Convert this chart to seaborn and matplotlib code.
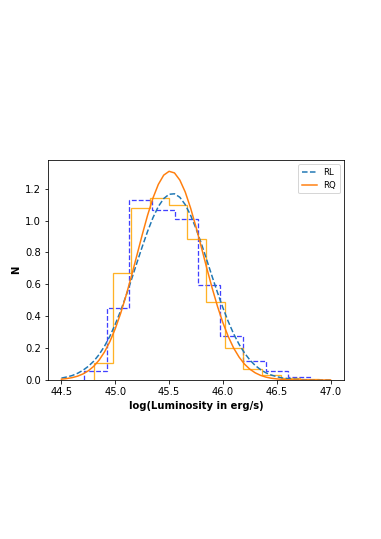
import numpy as np
import matplotlib
matplotlib.use("Agg")
import matplotlib.pyplot as plt
import seaborn as sns

# histogram bins (density values)
rl_edges = [44.71, 44.92, 45.13, 45.345, 45.555, 45.765, 45.975, 46.19, 46.40, 46.605, 46.82]
rl_heights = [0.057, 0.454, 1.129, 1.068, 1.009, 0.593, 0.276, 0.117, 0.057, 0.019]

rq_edges = [44.80, 44.975, 45.15, 45.325, 45.50, 45.67, 45.845, 46.02, 46.19, 46.365,
            46.54, 46.715, 46.89]
rq_heights = [0.105, 0.670, 1.079, 1.141, 1.100, 0.884, 0.490, 0.203, 0.071, 0.029,
              0.010, 0.004]

# fitted curves, read at 0.05 steps
fit_x = [44.50, 44.55, 44.60, 44.65, 44.70, 44.75, 44.80, 44.85, 44.90, 44.95,
         45.00, 45.05, 45.10, 45.15, 45.20, 45.25, 45.30, 45.35, 45.40, 45.45,
         45.50, 45.55, 45.60, 45.65, 45.70, 45.75, 45.80, 45.85, 45.90, 45.95,
         46.00, 46.05, 46.10, 46.15, 46.20, 46.25, 46.30, 46.35, 46.40, 46.45,
         46.50, 46.55, 46.60, 46.65, 46.70, 46.75, 46.80, 46.85, 46.90, 46.95, 47.00]
rl_fit = [0.012, 0.019, 0.028, 0.042, 0.061, 0.086, 0.118, 0.160, 0.212, 0.275,
          0.350, 0.434, 0.528, 0.629, 0.733, 0.835, 0.932, 1.018, 1.088, 1.138,
          1.165, 1.168, 1.146, 1.100, 1.033, 0.950, 0.855, 0.753, 0.649, 0.548,
          0.453, 0.366, 0.289, 0.224, 0.170, 0.126, 0.091, 0.065, 0.045, 0.031,
          0.021, 0.013, 0.009, 0.005, 0.003, 0.002, 0.001, 0.001, 0.0004, 0.0002, 0.0001]
rq_fit = [0.005, 0.009, 0.015, 0.024, 0.038, 0.058, 0.086, 0.125, 0.176, 0.241,
          0.322, 0.418, 0.529, 0.651, 0.780, 0.910, 1.033, 1.141, 1.227, 1.285,
          1.309, 1.299, 1.254, 1.179, 1.078, 0.960, 0.832, 0.702, 0.577, 0.461,
          0.359, 0.272, 0.200, 0.144, 0.100, 0.068, 0.045, 0.029, 0.018, 0.011,
          0.007, 0.004, 0.002, 0.001, 0.0006, 0.0003, 0.0002, 0.0001, 0.0, 0.0, 0.0]

plt.rcParams["font.family"] = ["DejaVu Sans"]

fig = plt.figure(figsize=(381 / 72, 539 / 72), dpi=72)
ax = fig.add_axes([48 / 381, 159 / 539, 296 / 381, 220 / 539])

# step histograms, closed down to zero at both ends
ax.stairs(rl_heights, rl_edges, color="blue", linestyle="--", alpha=0.75, linewidth=1.3)
ax.stairs(rq_heights, rq_edges, color="orange", alpha=0.85, linewidth=1.3)

sns.lineplot(x=fit_x, y=rl_fit, color="C0", linestyle="--", label="RL", ax=ax)
sns.lineplot(x=fit_x, y=rq_fit, color="C1", label="RQ", ax=ax)

ax.set_xlim(44.375, 47.125)
ax.set_ylim(0, 1.38)
ax.set_xticks([44.5, 45.0, 45.5, 46.0, 46.5, 47.0])
ax.set_xlabel("log(Luminosity in erg/s)", fontweight="bold")
ax.set_ylabel("N", fontweight="bold")
ax.legend(loc="upper right", fontsize=8.5, handlelength=1.8)

fig.savefig("out.png", dpi=72)
